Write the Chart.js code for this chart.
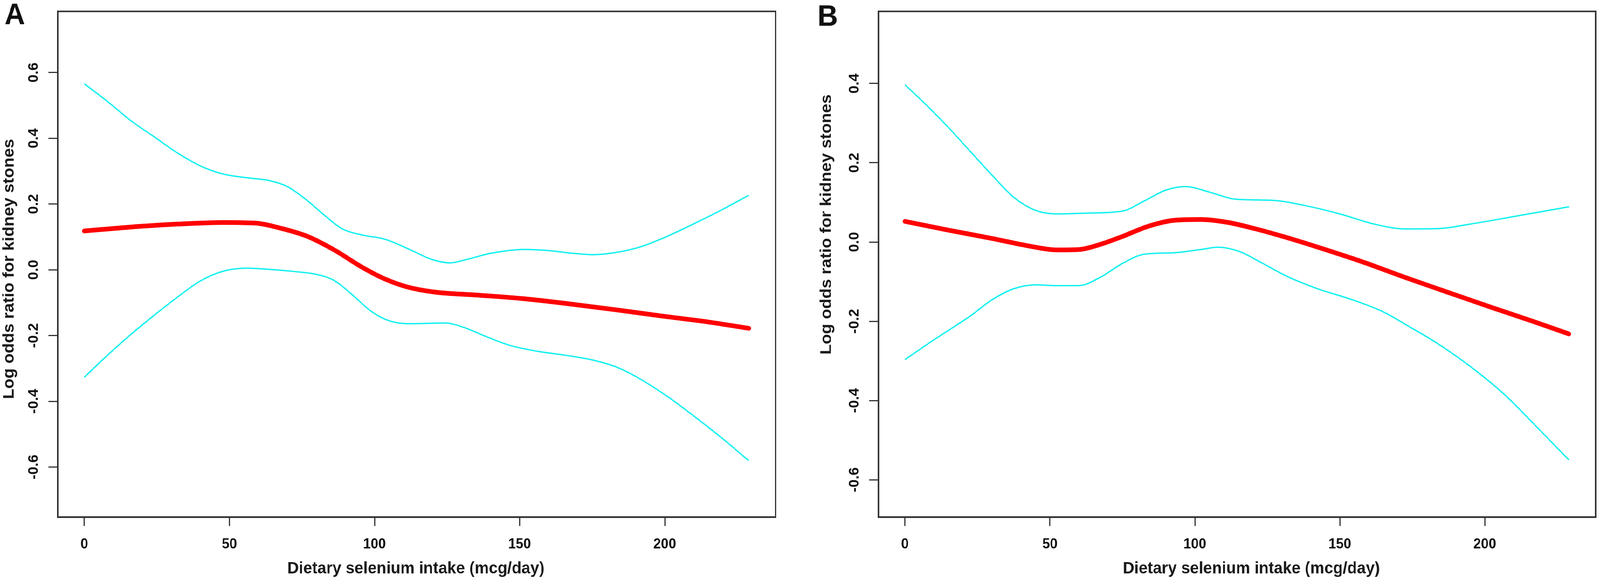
<!DOCTYPE html>
<html>
<head>
<meta charset="utf-8">
<title>Dietary selenium intake and kidney stones</title>
<script src="https://cdn.jsdelivr.net/npm/chart.js@4.4.1/dist/chart.umd.min.js"></script>
<style>
  html, body { margin: 0; padding: 0; background: #fff; overflow: hidden; }
  #wrap { position: relative; width: 4328px; height: 1491px; transform-origin: 0 0; }
  canvas { position: absolute; top: 0; }
  #panelA { left: 0; }
  #panelB { left: 2164px; }
</style>
</head>
<body>
<div id="wrap">
  <canvas id="panelA" width="2164" height="1491"></canvas>
  <canvas id="panelB" width="2164" height="1491"></canvas>
</div>
<script>
// ---- Data ----
const xTicks = [0, 50, 100, 150, 200];
const yTicksA = [-0.6, -0.4, -0.2, 0.0, 0.2, 0.4, 0.6];
const yTicksB = [-0.6, -0.4, -0.2, 0.0, 0.2, 0.4];

const xTitle = 'Dietary selenium intake (mcg/day)';
const yTitle = 'Log odds ratio for kidney stones';

// Panel A
const xEstA = [0, 16, 32, 48, 59, 67, 76.5, 86, 95.7, 103.6, 111.6, 121, 135.5, 151.5, 167.4, 183.4, 199.3, 215.2, 229];
const yEstA = [0.118, 0.130, 0.139, 0.144, 0.142, 0.128, 0.103, 0.061, 0.008, -0.028, -0.053, -0.068, -0.077, -0.088, -0.104, -0.122, -0.141, -0.159, -0.178];

const xUpA = [0, 8, 16, 24, 32, 40, 48, 56, 64, 70, 76.5, 83, 89, 95.7, 103.6, 111.6, 119.6, 126, 132, 140, 151.5, 159.4, 167.4, 175.4, 183.4, 191.3, 200.9, 210.5, 220, 229];
const yUpA = [0.566, 0.512, 0.454, 0.405, 0.356, 0.316, 0.291, 0.280, 0.271, 0.253, 0.213, 0.164, 0.124, 0.106, 0.093, 0.064, 0.032, 0.021, 0.032, 0.050, 0.062, 0.059, 0.051, 0.046, 0.053, 0.069, 0.102, 0.142, 0.184, 0.227];

const xLowA = [0, 8, 16, 24, 32, 40, 48, 56, 64, 72, 80, 86, 92.5, 98.8, 105, 111.6, 124.4, 130.7, 138.7, 146.7, 156.2, 165.8, 175.4, 183.4, 191.3, 200.9, 210.5, 220, 229];
const yLowA = [-0.327, -0.260, -0.197, -0.139, -0.084, -0.034, -0.004, 0.005, 0.001, -0.005, -0.014, -0.032, -0.077, -0.126, -0.155, -0.164, -0.162, -0.175, -0.204, -0.230, -0.248, -0.260, -0.275, -0.296, -0.331, -0.385, -0.448, -0.514, -0.581];

// Panel B
const xEstB = [0, 15, 30, 42, 52.5, 60, 67.4, 75, 84, 93, 102, 111, 120, 130.4, 142.4, 157.4, 172.4, 187.3, 202.3, 217.3, 229];
const yEstB = [0.052, 0.030, 0.009, -0.009, -0.020, -0.019, -0.006, 0.014, 0.040, 0.055, 0.057, 0.050, 0.035, 0.014, -0.013, -0.049, -0.089, -0.127, -0.165, -0.202, -0.232];

const xUpB = [0, 7.5, 15, 22.5, 30, 37.5, 45, 52.5, 63, 75, 82.4, 90, 96.7, 105, 114, 127.4, 138, 150, 162, 172.4, 184.3, 194.8, 209.8, 229];
const yUpB = [0.397, 0.345, 0.289, 0.229, 0.169, 0.113, 0.080, 0.071, 0.073, 0.078, 0.103, 0.131, 0.140, 0.126, 0.108, 0.105, 0.092, 0.071, 0.045, 0.033, 0.034, 0.045, 0.064, 0.089];

const xLowB = [0, 7.5, 15, 22.5, 30, 37.5, 45, 52.5, 60, 67.4, 75, 82.4, 93, 102, 108, 115.4, 122.9, 131.9, 142.4, 154.4, 164.9, 173.8, 182.8, 194.8, 206.8, 217.3, 229];
const yLowB = [-0.297, -0.259, -0.223, -0.187, -0.146, -0.118, -0.108, -0.110, -0.110, -0.089, -0.054, -0.031, -0.027, -0.019, -0.013, -0.024, -0.052, -0.087, -0.118, -0.146, -0.176, -0.213, -0.252, -0.313, -0.385, -0.462, -0.550];

const RED = '#ff0000';
const CYAN = '#12f0f0';
const INK = '#333333';
const FONT = 'Arial, "Liberation Sans", Helvetica, sans-serif';

// stretch the 4328x1491 figure over whatever viewport we get
const sx = window.innerWidth / 4328;
const sy = window.innerHeight / 1491;
document.getElementById('wrap').style.transform = `scale(${sx}, ${sy})`;

function toPoints(xs, ys) {
  return xs.map((x, i) => ({ x: x, y: ys[i] }));
}

// box on all four sides of the plot region, plus panel letter and axis titles
const boxAndText = {
  id: 'boxAndText',
  afterDraw(chart, args, opts) {
    const { ctx, chartArea } = chart;
    ctx.save();
    ctx.strokeStyle = INK;
    ctx.lineWidth = 4;
    ctx.strokeRect(chartArea.left, chartArea.top, chartArea.right - chartArea.left, chartArea.bottom - chartArea.top);

    ctx.fillStyle = '#111';
    ctx.textAlign = 'center';
    ctx.textBaseline = 'middle';
    ctx.font = 'bold 76px ' + FONT;
    ctx.fillText(opts.letter, opts.letterPos[0], opts.letterPos[1]);

    ctx.fillStyle = '#1a1a1a';
    ctx.font = 'bold 43px ' + FONT;
    ctx.fillText(xTitle, opts.xTitlePos[0], opts.xTitlePos[1]);

    ctx.translate(opts.yTitlePos[0], opts.yTitlePos[1]);
    ctx.rotate(-Math.PI / 2);
    ctx.fillText(yTitle, 0, 0);
    ctx.restore();
  }
};

function makePanel(canvasId, cfg) {
  return new Chart(document.getElementById(canvasId), {
    type: 'line',
    data: {
      datasets: [
        { label: 'Upper 95% CI', data: toPoints(cfg.xUp, cfg.yUp), borderColor: CYAN, borderWidth: 3.5 },
        { label: 'Lower 95% CI', data: toPoints(cfg.xLow, cfg.yLow), borderColor: CYAN, borderWidth: 3.5 },
        { label: 'Log odds ratio', data: toPoints(cfg.xEst, cfg.yEst), borderColor: RED, borderWidth: 12, borderCapStyle: 'round' }
      ]
    },
    options: {
      responsive: false,
      animation: false,
      devicePixelRatio: 1,
      layout: { padding: { top: 9.5, right: cfg.padRight, left: 0, bottom: 0 } },
      elements: {
        point: { radius: 0 },
        line: { cubicInterpolationMode: 'monotone', fill: false }
      },
      plugins: {
        legend: { display: false },
        tooltip: { enabled: false },
        boxAndText: cfg.text
      },
      scales: {
        x: {
          type: 'linear',
          min: -9.16,
          max: 238.2,
          afterBuildTicks: axis => { axis.ticks = xTicks.map(v => ({ value: v })); },
          afterFit: axis => { axis.height = 166.5; },
          border: { display: true, color: INK, width: 4 },
          grid: { display: true, drawOnChartArea: false, drawTicks: true, tickLength: 23, color: INK, lineWidth: 3 },
          ticks: {
            autoSkip: false,
            maxRotation: 0,
            padding: 25,
            color: '#111',
            font: { family: FONT, size: 37, weight: 'bold' },
            callback: v => String(v)
          }
        },
        y: {
          type: 'linear',
          min: cfg.yMin,
          max: cfg.yMax,
          afterBuildTicks: axis => { axis.ticks = cfg.yTicks.map(v => ({ value: v })); },
          afterFit: axis => { axis.width = cfg.axisWidth; },
          border: { display: true, color: INK, width: 4 },
          grid: { display: true, drawOnChartArea: false, drawTicks: true, tickLength: 25, color: INK, lineWidth: 3 },
          ticks: {
            autoSkip: false,
            minRotation: 90,
            maxRotation: 90,
            crossAlign: 'center',
            padding: 7,
            color: '#111',
            font: { family: FONT, size: 37, weight: 'bold' },
            callback: v => v.toFixed(1)
          }
        }
      }
    },
    plugins: [boxAndText]
  });
}

makePanel('panelA', {
  xEst: xEstA, yEst: yEstA, xUp: xUpA, yUp: yUpA, xLow: xLowA, yLow: yLowA,
  yTicks: yTicksA, yMin: -0.752, yMax: 0.786,
  axisWidth: 156, padRight: 66,
  text: { letter: 'A', letterPos: [40, 41], xTitlePos: [1125, 1457], yTitlePos: [25, 689] }
});

makePanel('panelB', {
  xEst: xEstB, yEst: yEstB, xUp: xUpB, yUp: yUpB, xLow: xLowB, yLow: yLowB,
  yTicks: yTicksB, yMin: -0.694, yMax: 0.582,
  axisWidth: 212, padRight: 12,
  text: { letter: 'B', letterPos: [75, 45], xTitlePos: [1221, 1457], yTitlePos: [72, 575] }
});
</script>
</body>
</html>
